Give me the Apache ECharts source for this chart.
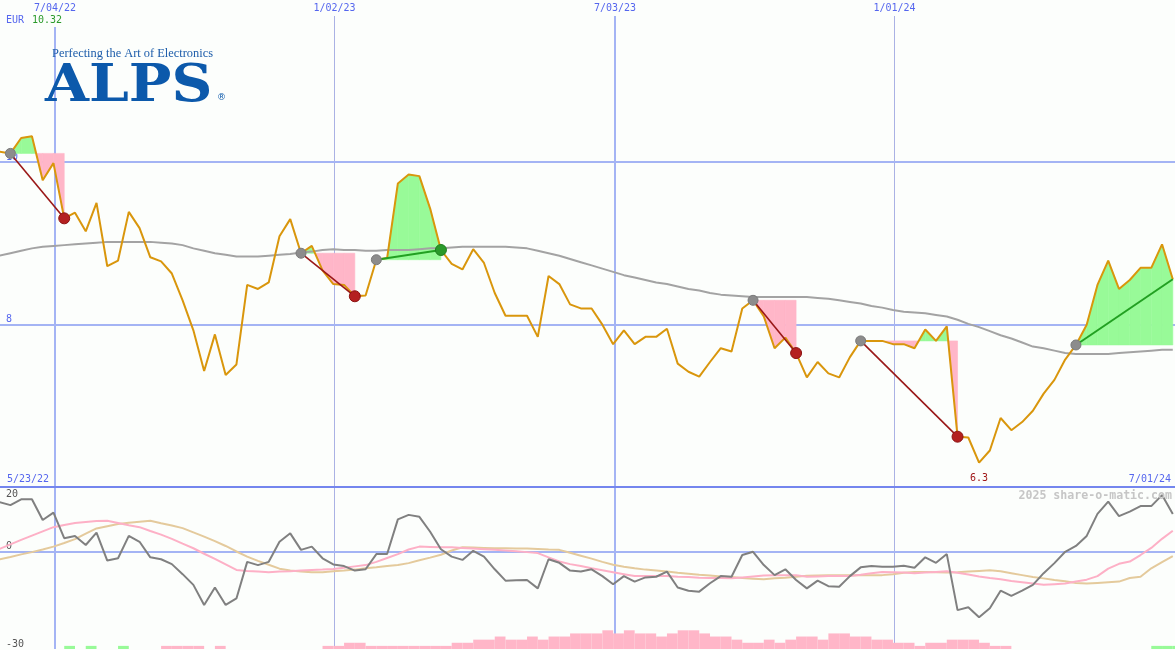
<!DOCTYPE html>
<html><head><meta charset="utf-8">
<script src="https://cdn.jsdelivr.net/npm/echarts@6/dist/echarts.min.js"></script>
<style>html,body{margin:0;padding:0;background:#fcfefc}#c{width:1175px;height:650px}</style>
</head><body><div id="c"></div>
<script>
// ---------- data (weekly closes, EUR) ----------
const firstWeek = [2022, 4, 29];   // 29 May 2022, then weekly
const price = [10.13,10.11,10.30,10.32,9.78,9.99,9.31,9.38,9.15,9.50,
 8.72,8.79,9.39,9.19,8.83,8.78,8.63,8.30,7.93,7.43,
 7.88,7.38,7.51,8.49,8.44,8.52,9.09,9.30,8.88,8.97,
 8.67,8.50,8.49,8.35,8.36,8.80,8.82,9.74,9.85,9.83,
 9.43,8.92,8.75,8.68,8.93,8.76,8.39,8.11,8.11,8.11,
 7.85,8.60,8.50,8.25,8.20,8.20,8.00,7.76,7.93,7.76,
 7.85,7.85,7.95,7.52,7.42,7.36,7.54,7.71,7.67,8.20,
 8.30,8.10,7.71,7.84,7.65,7.35,7.54,7.40,7.35,7.60,
 7.80,7.80,7.80,7.76,7.76,7.71,7.94,7.80,7.98,6.62,
 6.61,6.30,6.45,6.85,6.70,6.80,6.94,7.15,7.32,7.57,
 7.75,8.00,8.49,8.79,8.44,8.55,8.70,8.70,8.99,8.56];
const movingAvg = [8.85,8.88,8.91,8.94,8.96,8.97,8.98,8.99,9.00,9.01,
 9.02,9.02,9.02,9.02,9.02,9.01,9.00,8.98,8.94,8.91,
 8.88,8.86,8.84,8.84,8.84,8.85,8.86,8.87,8.89,8.90,
 8.92,8.93,8.92,8.92,8.91,8.91,8.92,8.92,8.92,8.93,
 8.94,8.94,8.95,8.96,8.96,8.96,8.96,8.96,8.95,8.94,
 8.91,8.88,8.85,8.81,8.77,8.73,8.69,8.65,8.61,8.58,
 8.55,8.52,8.50,8.47,8.44,8.42,8.39,8.37,8.36,8.35,
 8.34,8.34,8.34,8.34,8.34,8.34,8.33,8.32,8.30,8.28,
 8.26,8.23,8.21,8.18,8.16,8.15,8.14,8.12,8.10,8.06,
 8.01,7.97,7.92,7.87,7.83,7.78,7.73,7.71,7.68,7.65,
 7.64,7.64,7.64,7.64,7.65,7.66,7.67,7.68,7.69,7.69];
const momentum = [15.3,14.4,16.2,16.2,9.8,12.1,4.2,4.9,2.1,5.9,
 -2.7,-2.0,4.9,3.1,-1.7,-2.3,-3.8,-6.9,-10.2,-16.4,
 -11.0,-16.4,-14.4,-3.1,-4.1,-3.1,3.1,5.7,0.6,1.6,
 -2.0,-3.9,-4.4,-5.8,-5.4,-0.7,-0.7,10.0,11.4,10.8,
 6.2,0.8,-1.5,-2.5,0.3,-1.5,-5.4,-8.9,-8.8,-8.7,
 -11.3,-2.3,-3.4,-5.8,-6.1,-5.4,-7.5,-10.0,-7.5,-9.2,
 -7.9,-7.7,-6.1,-11.0,-12.0,-12.3,-9.7,-7.5,-7.7,-1.0,
 0.0,-4.1,-7.2,-5.4,-8.7,-11.3,-8.9,-10.6,-10.8,-7.5,
 -4.8,-4.4,-4.6,-4.6,-4.3,-4.9,-1.7,-3.4,-0.7,-18.0,
 -17.1,-20.2,-17.4,-12.0,-13.6,-12.0,-10.2,-6.6,-3.5,0.0,
 1.8,4.9,11.7,15.5,11.0,12.4,14.1,14.1,17.5,11.7];
const momentumFast = [0.9,2.3,3.7,5.0,6.3,7.6,8.3,8.9,9.2,9.5,
 9.6,8.9,8.2,7.6,6.4,5.3,4.0,2.5,1.1,-0.6,
 -2.2,-3.9,-5.6,-5.9,-6.1,-6.3,-6.1,-6.0,-5.8,-5.6,
 -5.5,-5.3,-4.9,-4.5,-4.1,-3.1,-1.9,-0.7,0.7,1.6,
 1.5,1.4,1.4,1.2,1.0,0.8,0.6,0.4,0.2,-0.1,
 -0.4,-1.7,-3.0,-3.8,-4.4,-5.1,-5.7,-6.3,-6.9,-7.5,
 -7.5,-7.5,-7.5,-7.7,-7.8,-8.0,-8.1,-8.1,-8.2,-7.9,
 -7.6,-7.3,-7.2,-7.2,-7.2,-7.7,-7.6,-7.5,-7.5,-7.5,
 -7.1,-6.6,-6.2,-6.3,-6.4,-6.6,-6.4,-6.2,-6.0,-6.5,
 -7.0,-7.6,-8.1,-8.5,-9.0,-9.4,-9.8,-10.2,-10.0,-9.8,
 -9.2,-8.6,-7.5,-5.2,-3.7,-3.0,-1.0,1.2,4.0,6.5];
const momentumSlow = [-2.3,-1.6,-0.8,-0.1,0.7,1.6,2.7,3.9,5.6,7.2,
 7.9,8.6,9.0,9.3,9.6,8.8,8.1,7.3,6.0,4.7,
 3.3,1.8,0.1,-1.5,-2.8,-4.0,-5.2,-5.8,-6.1,-6.3,
 -6.3,-6.0,-5.8,-5.5,-5.1,-4.8,-4.4,-4.1,-3.5,-2.6,
 -1.8,-0.9,0.4,1.4,1.3,1.2,1.1,1.1,1.0,1.0,
 0.9,0.7,0.6,-0.3,-1.2,-2.1,-3.1,-4.0,-4.6,-5.1,
 -5.5,-5.8,-6.1,-6.5,-6.8,-7.1,-7.3,-7.6,-7.8,-8.1,
 -8.3,-8.5,-8.2,-8.0,-7.7,-7.4,-7.3,-7.2,-7.2,-7.2,
 -7.2,-7.2,-7.2,-6.9,-6.5,-6.2,-6.2,-6.3,-6.4,-6.3,
 -6.1,-5.9,-5.7,-6.0,-6.6,-7.2,-7.8,-8.2,-8.7,-9.1,
 -9.6,-9.8,-9.6,-9.4,-9.2,-8.1,-7.7,-5.1,-3.2,-1.3];
const signalBars = [0,0,0,0,0,0,1,0,1,0,
 0,1,0,0,0,-1,-1,-1,-1,0,
 -1,0,0,0,0,0,0,0,0,0,
 -1,-1,-2,-2,-1,-1,-1,-1,-1,-1,
 -1,-1,-2,-2,-3,-3,-4,-3,-3,-4,
 -3,-4,-4,-5,-5,-5,-6,-5,-6,-5,
 -5,-4,-5,-6,-6,-5,-4,-4,-3,-2,
 -2,-3,-2,-3,-4,-4,-3,-5,-5,-4,
 -4,-3,-3,-2,-2,-1,-2,-2,-3,-3,
 -3,-2,-1,-1,0,0,0,0,0,0,
 0,0,0,0,0,0,0,1,1,1];
// trades: index of entry week, index of exit week
const tradeEntry = [1, 28, 35, 70, 80, 100];
const tradeExit  = [6, 33, 41, 74, 89, 109];
const tradeOpen  = [false, false, false, false, false, true];
// date grid
const dateMarks = ['2022-07-04', '2023-01-02', '2023-07-03', '2024-01-01'];
const dateMarkLabels = ['7/04/22', '1/02/23', '7/03/23', '1/01/24'];
const dateMarkWide = [true, false, true, false];
const priceTicks = [8, 10];
const oscTicksBottom = [0, -30];
const oscTickTop = 20;
const rangeStartLabel = '5/23/22';
const rangeEndLabel = '7/01/24';
const currency = 'EUR';

// ---------- styles ----------
const BG = '#fcfefc', BLUE = '#5566ee', GRIDC = '#a4b4f4', GRIDN = '#aab2e4', SEP = '#7486ee';
const MONO = '"DejaVu Sans Mono", monospace';
const ORANGE = '#d9960c', MAC = '#a3a3a3';
const GFILL = '#98fa98', PFILL = '#ffb6c8';

const times = price.map((_, i) => new Date(firstWeek[0], firstWeek[1], firstWeek[2] + 7 * i).getTime());
const toT = s => { const p = s.split('-').map(Number); return new Date(p[0], p[1] - 1, p[2]).getTime(); };
const xMin = new Date(2022, 4, 29, 5, 30).getTime();
const xMax = new Date(2024, 6, 1, 10, 20).getTime();
const pair = arr => arr.map((v, i) => [times[i], v]);

function dateLineItem(withLabel) {
  return function (params, api) {
    const i = params.dataIndex, cs = params.coordSys;
    const wide = dateMarkWide[i];
    let x = api.coord([api.value(0), 0])[0];
    x = wide ? Math.round(x) : Math.floor(x) + 0.5;
    const ch = [{ type: 'line', shape: { x1: x, y1: cs.y, x2: x, y2: cs.y + cs.height },
      style: { stroke: wide ? GRIDC : GRIDN, lineWidth: wide ? 2 : 1 } }];
    if (withLabel) ch.push({ type: 'text', style: { text: dateMarkLabels[i], x: x, y: cs.y,
      align: 'center', verticalAlign: 'top', fill: BLUE, font: '10px ' + MONO,
      backgroundColor: BG, padding: [3, 2, 3, 2] } });
    return { type: 'group', children: ch };
  };
}
function hLineItem(colors) {
  return function (params, api) {
    const cs = params.coordSys;
    const y = Math.round(api.coord([xMin, api.value(1)])[1]);
    return { type: 'line', shape: { x1: cs.x, y1: y, x2: cs.x + cs.width, y2: y },
      style: { stroke: colors[params.dataIndex], lineWidth: 2 } };
  };
}
function fillItem(params, api) {
  const t = params.dataIndex, e = tradeEntry[t], x = tradeExit[t], E = price[e];
  const ch = [];
  const poly = (ta, va, tb, vb, s) => {
    const c = s > 0 ? GFILL : PFILL;
    ch.push({ type: 'polygon', shape: { points: [api.coord([ta, E]), api.coord([ta, va]), api.coord([tb, vb]), api.coord([tb, E])] },
      style: { fill: c, stroke: c, lineWidth: 0.6 } });
  };
  for (let k = e; k < x; k++) {
    const d0 = price[k] - E, d1 = price[k + 1] - E, t0 = times[k], t1 = times[k + 1];
    if (d0 * d1 < 0) {
      const tc = t0 + (t1 - t0) * d0 / (d0 - d1);
      poly(t0, price[k], tc, E, d0);
      poly(tc, E, t1, price[k + 1], d1);
    } else if (d0 + d1 !== 0) {
      poly(t0, price[k], t1, price[k + 1], d0 + d1);
    }
  }
  return { type: 'group', children: ch };
}
function tradeItem(params, api) {
  const i = params.dataIndex, e = tradeEntry[i], x = tradeExit[i];
  const pe = api.coord([times[e], price[e]]), px = api.coord([times[x], price[x]]);
  const win = price[x] > price[e];
  const ch = [{ type: 'line', shape: { x1: pe[0], y1: pe[1], x2: px[0], y2: px[1] },
    style: { stroke: win ? '#22a022' : '#9a1818', lineWidth: win ? 2 : 1.6 } },
    { type: 'circle', shape: { cx: pe[0], cy: pe[1], r: 5 }, style: { fill: '#8c8c8c', stroke: '#7a7a7a', lineWidth: 1 } }];
  if (!tradeOpen[i]) ch.push({ type: 'circle', shape: { cx: px[0], cy: px[1], r: 5.5 },
    style: { fill: win ? '#2a9a2a' : '#b42020', stroke: win ? '#1f7f1f' : '#8c1212', lineWidth: 1 } });
  return { type: 'group', children: ch };
}
function barItem(params, api) {
  const k = params.dataIndex, h = signalBars[k];
  if (!h) return null;
  const cs = params.coordSys;
  const t1 = k + 1 < times.length ? times[k + 1] : times[k] + 7 * 86400000;
  const p0 = api.coord([times[k], 0]), p1 = api.coord([t1, Math.abs(h)]);
  const x2 = Math.min(p1[0], cs.x + cs.width);
  return { type: 'rect', shape: { x: p0[0], y: p1[1], width: x2 - p0[0], height: p0[1] - p1[1] },
    style: { fill: h > 0 ? GFILL : PFILL } };
}

const chart = echarts.init(document.getElementById('c'));
const lblBase = { inside: true, margin: 6, fontFamily: MONO, fontSize: 10, showMinLabel: true, showMaxLabel: true };
const maxP = Math.max(...price);
chart.setOption({
  backgroundColor: BG,
  animation: false,
  grid: [{ left: 0, right: 0, top: 0, height: 487 }, { left: 0, right: 0, top: 487, height: 162 }],
  xAxis: [
    { type: 'time', gridIndex: 0, min: xMin, max: xMax, show: false },
    { type: 'time', gridIndex: 1, min: xMin, max: xMax, show: false }
  ],
  yAxis: [
    { type: 'value', gridIndex: 0, position: 'left', min: 6, max: 12, interval: 2, axisLine: { show: false }, axisTick: { show: false }, splitLine: { show: false },
      axisLabel: Object.assign({}, lblBase, { verticalAlign: 'bottom', color: BLUE, formatter: v => priceTicks.includes(v) ? String(v) : '' }) },
    { type: 'value', gridIndex: 1, position: 'left', min: -30, max: 20, interval: 10, axisLine: { show: false }, axisTick: { show: false }, splitLine: { show: false },
      axisLabel: Object.assign({}, lblBase, { verticalAlign: 'bottom', color: '#555', formatter: v => oscTicksBottom.includes(v) ? String(v) : '' }) },
    { type: 'value', gridIndex: 1, position: 'left', min: -30, max: 20, interval: 10, axisLine: { show: false }, axisTick: { show: false }, splitLine: { show: false },
      axisLabel: Object.assign({}, lblBase, { verticalAlign: 'top', padding: [2, 0, 0, 0], color: '#555', formatter: v => v === oscTickTop ? String(v) : '' }) },
    { type: 'value', gridIndex: 1, min: 0, max: 52, show: false }
  ],
  series: [
    { type: 'custom', xAxisIndex: 0, yAxisIndex: 0, z: 1, silent: true, renderItem: dateLineItem(true), data: dateMarks.map(d => [toT(d), 6]) },
    { type: 'custom', xAxisIndex: 1, yAxisIndex: 1, z: 1, silent: true, renderItem: dateLineItem(false), data: dateMarks.map(d => [toT(d), 0]) },
    { type: 'custom', xAxisIndex: 0, yAxisIndex: 0, z: 1, silent: true, renderItem: hLineItem([GRIDC, GRIDC, SEP]), data: [[xMin, 10], [xMin, 8], [xMin, 6]] },
    { type: 'custom', xAxisIndex: 1, yAxisIndex: 1, z: 1, silent: true, renderItem: hLineItem([GRIDC]), data: [[xMin, 0]] },
    { type: 'custom', xAxisIndex: 0, yAxisIndex: 0, z: 2, silent: true, renderItem: fillItem, data: tradeEntry.map(e => [times[e], price[e]]) },
    { type: 'line', xAxisIndex: 0, yAxisIndex: 0, z: 3, data: pair(movingAvg), symbol: 'none', lineStyle: { color: MAC, width: 2 } },
    { type: 'line', xAxisIndex: 0, yAxisIndex: 0, z: 4, data: pair(price), symbol: 'none', lineStyle: { color: ORANGE, width: 2 },
      markPoint: { symbol: 'circle', symbolSize: 1, itemStyle: { color: 'rgba(0,0,0,0)' }, data: [{ type: 'min' }],
        label: { show: true, position: 'bottom', distance: 10, color: '#a01818', fontFamily: MONO, fontSize: 10, formatter: p => p.value.toFixed(1) } } },
    { type: 'custom', xAxisIndex: 0, yAxisIndex: 0, z: 5, silent: true, renderItem: tradeItem, data: tradeEntry.map(e => [times[e], price[e]]) },
    { type: 'custom', xAxisIndex: 1, yAxisIndex: 3, z: 2, silent: true, renderItem: barItem, data: signalBars.map((h, i) => [times[i], Math.abs(h)]) },
    { type: 'line', xAxisIndex: 1, yAxisIndex: 1, z: 3, data: pair(momentumSlow), symbol: 'none', lineStyle: { color: '#e4ca9c', width: 2 } },
    { type: 'line', xAxisIndex: 1, yAxisIndex: 1, z: 3, data: pair(momentumFast), symbol: 'none', lineStyle: { color: '#fdb0c6', width: 2 } },
    { type: 'line', xAxisIndex: 1, yAxisIndex: 1, z: 4, data: pair(momentum), symbol: 'none', lineStyle: { color: '#808080', width: 2 } }
  ],
  graphic: [
    { type: 'text', left: 6, top: 15, z: 100, style: { text: currency, fill: BLUE, font: '10px ' + MONO } },
    { type: 'text', left: 31, top: 15, z: 100, style: { text: maxP.toFixed(2), fill: '#2a9a2a', font: '10px ' + MONO, backgroundColor: BG, padding: [0, 1, 2, 1] } },
    { type: 'text', left: 7, top: 474, z: 100, style: { text: rangeStartLabel, fill: BLUE, font: '10px ' + MONO } },
    { type: 'text', right: 4, top: 474, z: 100, style: { text: rangeEndLabel, fill: BLUE, font: '10px ' + MONO } },
    { type: 'text', right: 3, top: 490, z: 100, style: { text: '2025 share-o-matic.com', fill: '#c6c6c6', font: 'bold 11.6px ' + MONO } },
    { type: 'text', left: 52, top: 48, z: 100, style: { text: 'Perfecting the Art of Electronics', fill: '#1c5caa', font: '12.4px "Liberation Serif"' } },
    { type: 'text', left: 45, top: 61, z: 100, scaleX: 1.09, style: { text: 'ALPS', fill: '#0c59ab', font: 'bold 52px "DejaVu Serif"' } },
    { type: 'text', left: 217, top: 93, z: 100, style: { text: '®', fill: '#0c59ab', font: '9px "DejaVu Sans"' } }
  ]
});
</script></body></html>
